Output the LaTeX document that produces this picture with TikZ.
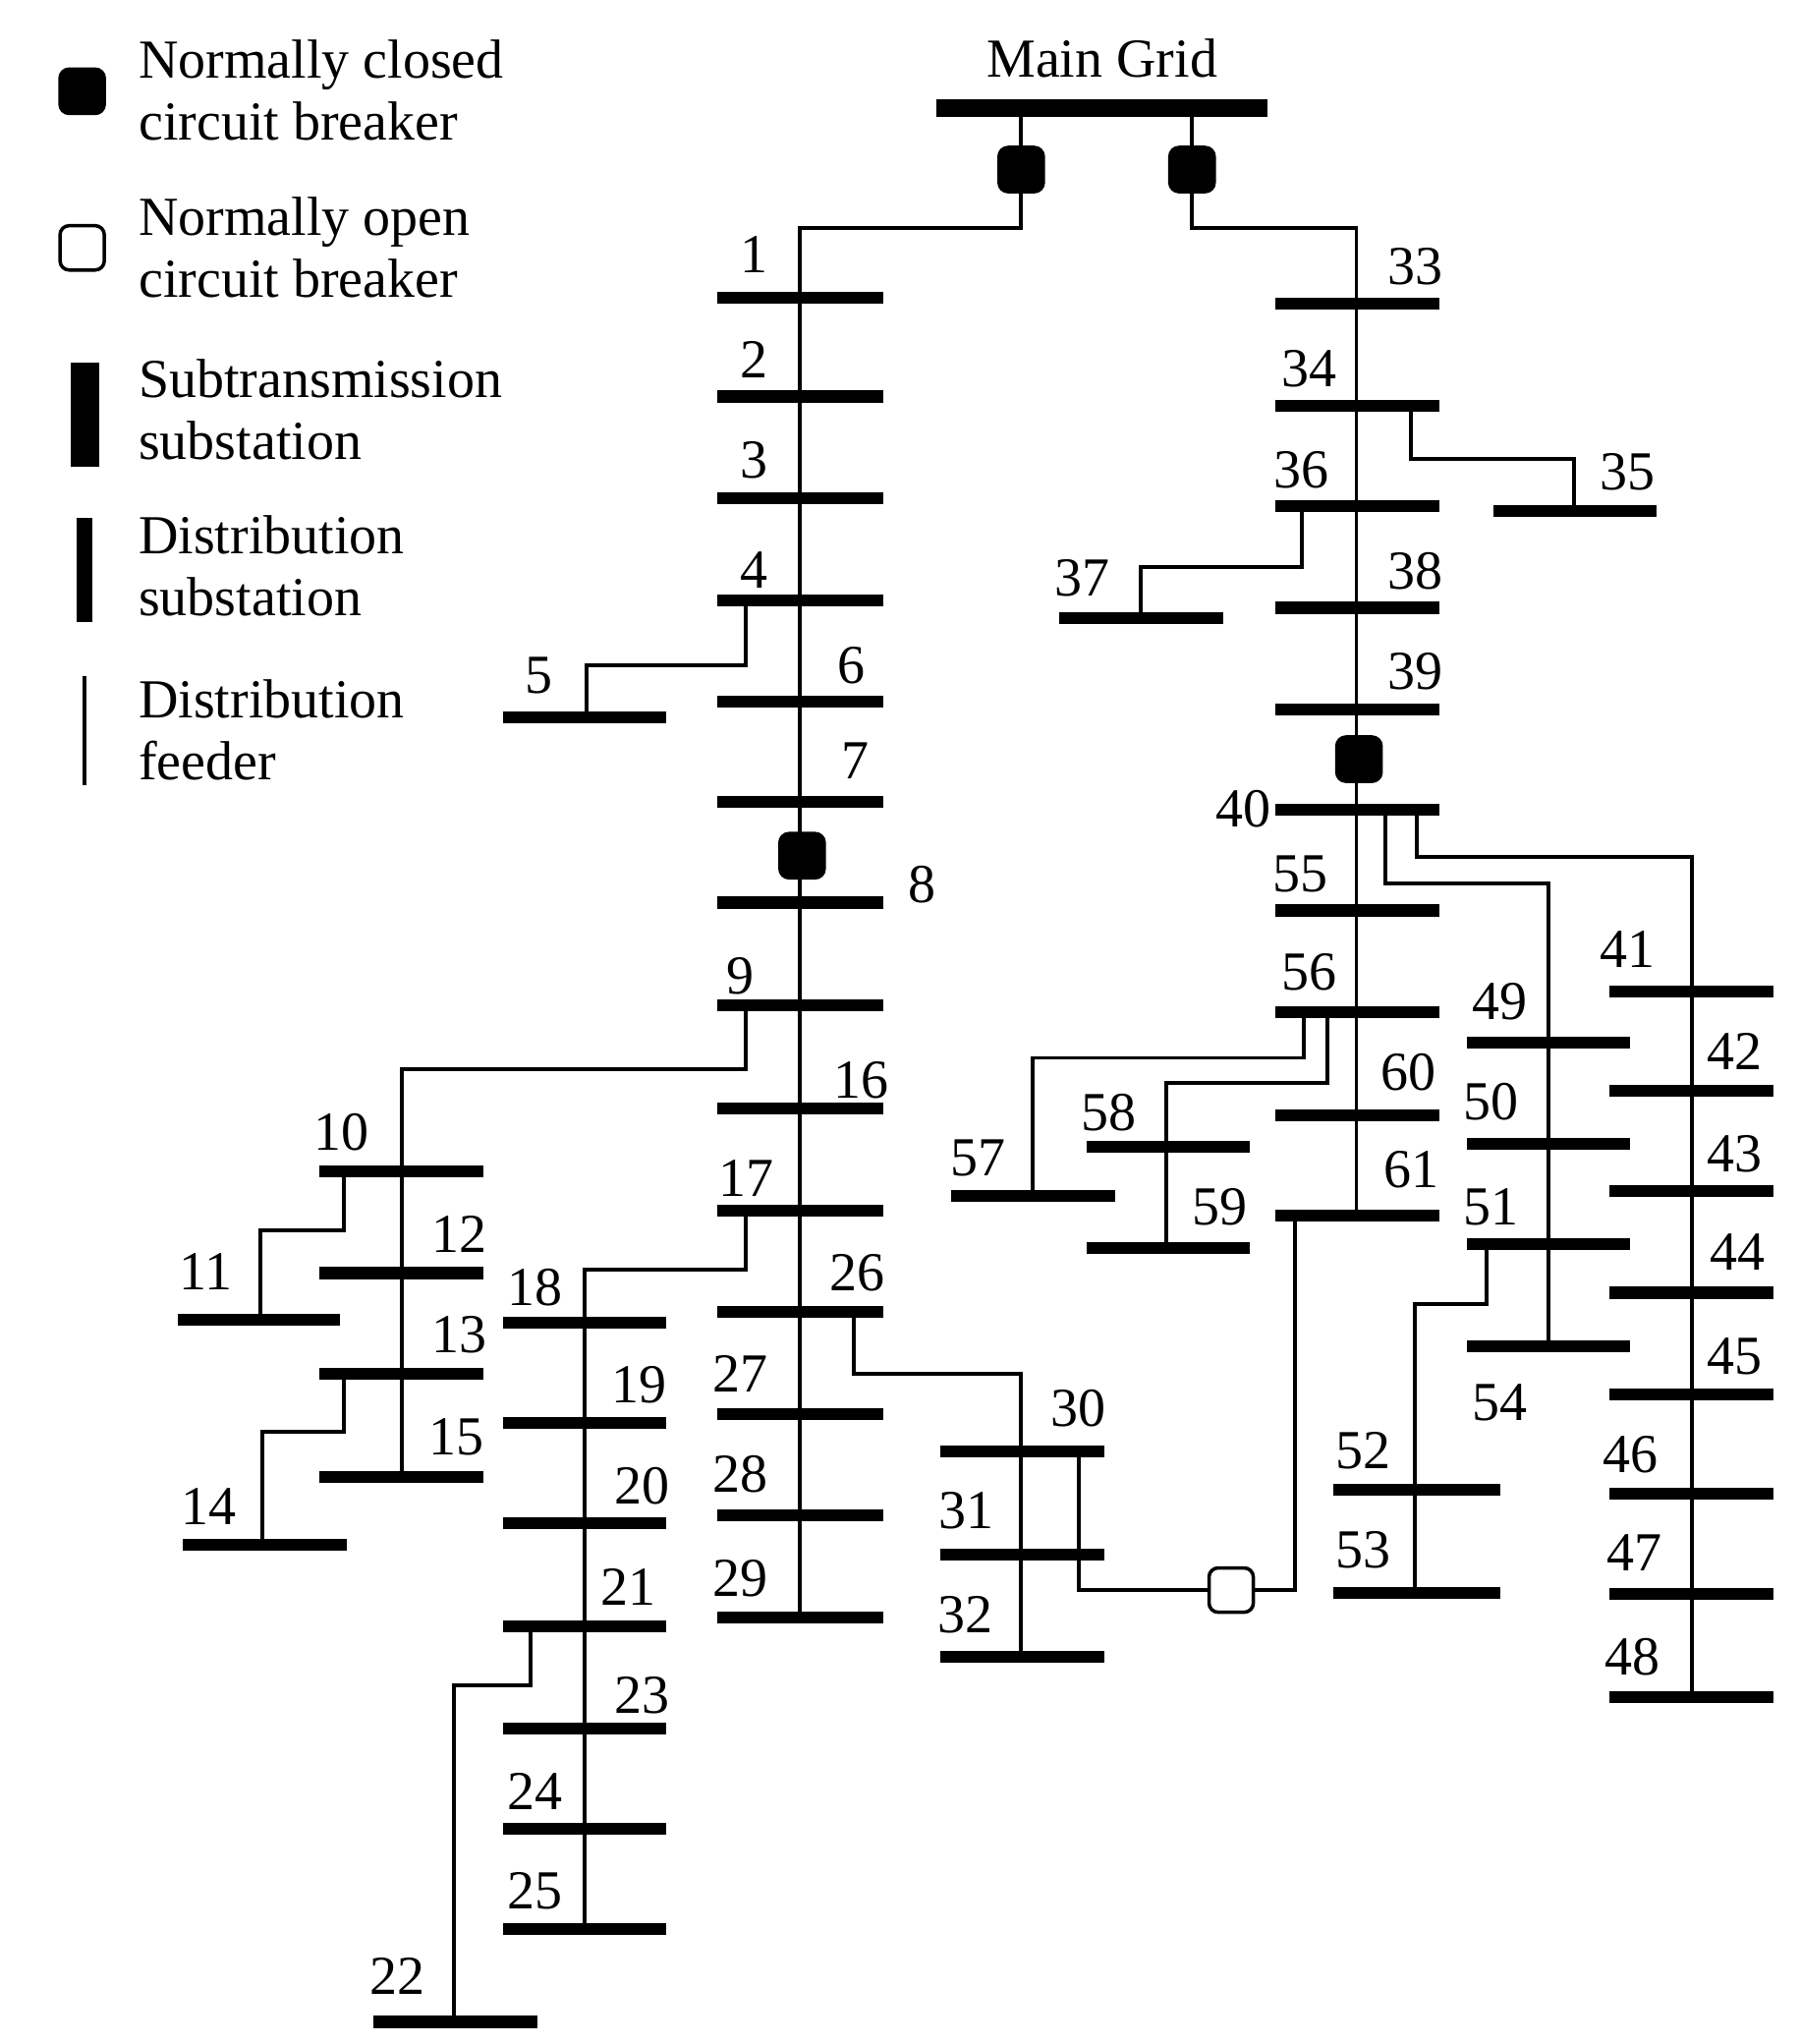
\documentclass[tikz,border=0pt]{standalone}
\usepackage{fontspec}
\setmainfont{Liberation Serif}
\begin{document}
\begin{tikzpicture}[x=0.02cm,y=-0.02cm,
 bus/.style={line width=5.2pt},
 sub/.style={line width=8pt},
 fd/.style={line width=1.7pt},
 cb/.style={draw,line width=1.5pt,fill=black,minimum size=0.68cm,rounded corners=4pt,inner sep=0pt},
 ob/.style={cb,fill=white},
 lb/.style={font=\fontsize{24}{26}\selectfont,inner sep=0pt},
 lt/.style={font=\fontsize{24}{27}\selectfont,inner sep=0pt,anchor=west,align=left}]
\useasboundingbox (0,0) rectangle (1380,1567);
% legend
\node[cb] (lg1) at (63,70) {};
\node[ob] (lg2) at (63,190) {};
\draw[line width=0.44cm] (65,278) -- (65,358);
\draw[line width=0.24cm] (65,397) -- (65,477);
\draw[fd] (65,518) -- (65,602);
\node[lt] at (106,69) {Normally closed\\circuit breaker};
\node[lt] at (106,190) {Normally open\\circuit breaker};
\node[lt] at (106,314) {Subtransmission\\substation};
\node[lt] at (106,434) {Distribution\\substation};
\node[lt] at (106,560) {Distribution\\feeder};
% main grid
\draw[sub] (718,83) -- (972,83);
\node[lb] at (845,45) {Main Grid};
\node[cb] (cbL) at (783,130) {};
\node[cb] (cbR) at (914,130) {};
\draw[fd] (783,83) -- (cbL) -- (783,175) -- (613,175) -- (613,1240);
\draw[fd] (914,83) -- (cbR) -- (914,175) -- (1040,175) -- (1040,932);
% left main feeder buses
\foreach \y/\n/\lx/\ly in {228/1/578/195,304/2/578/276,382/3/578/353,460/4/578/437,538/6/653/510,615/7/656/583,692/8/707/678,771/9/568/748,850/16/660/828,928/17/572/903,1006/26/657/976,1084/27/568/1053,1162/28/568/1130,1240/29/568/1210}{
 \draw[bus] (550,\y) -- (677,\y); \node[lb] (l\n) at (\lx,\ly) {\n};}
\node[cb] (cb8) at (615,656) {};
% bus 5
\draw[fd] (572,460) -- (572,510) -- (450,510) -- (450,550);
\draw[bus] (386,550) -- (511,550); \node[lb] at (413,518) {5};
% 10-15
\draw[fd] (572,771) -- (572,820) -- (308,820) -- (308,1132);
\foreach \y/\n/\lx/\ly in {898/10/262/868,976/12/352/946,1053/13/352/1023,1132/15/350/1102}{
 \draw[bus] (245,\y) -- (371,\y); \node[lb] at (\lx,\ly) {\n};}
\draw[fd] (264,898) -- (264,943) -- (200,943) -- (200,1012);
\draw[bus] (136,1012) -- (261,1012); \node[lb] at (158,975) {11};
\draw[fd] (264,1053) -- (264,1098) -- (201,1098) -- (201,1184);
\draw[bus] (140,1184) -- (266,1184); \node[lb] at (160,1155) {14};
% 18-25
\draw[fd] (572,928) -- (572,973) -- (448,973) -- (448,1479);
\foreach \y/\n/\lx/\ly in {1014/18/410/987,1091/19/490/1062,1168/20/492/1139,1247/21/482/1217,1325/23/492/1300,1402/24/410/1373,1479/25/410/1450}{
 \draw[bus] (386,\y) -- (511,\y); \node[lb] at (\lx,\ly) {\n};}
\draw[fd] (407,1247) -- (407,1292) -- (348,1292) -- (348,1550);
\draw[bus] (286,1550) -- (412,1550); \node[lb] at (305,1515) {22};
% 30-32
\draw[fd] (655,1006) -- (655,1053) -- (783,1053) -- (783,1270);
\foreach \y/\n/\lx/\ly in {1113/30/827/1080,1192/31/741/1158,1270/32/740/1238}{
 \draw[bus] (721,\y) -- (847,\y); \node[lb] at (\lx,\ly) {\n};}
\node[ob] (nob) at (944,1219) {};
\draw[fd] (827,1113) -- (827,1219) -- (nob) -- (993,1219) -- (993,932);
% right main feeder
\foreach \y/\n/\lx/\ly in {233/33/1085/204,311/34/1004/283,388/36/998/360,466/38/1085/438,544/39/1085/515,621/40/953/620,698/55/997/670,776/56/1004/745,855/60/1080/822,932/61/1082/897}{
 \draw[bus] (978,\y) -- (1104,\y); \node[lb] at (\lx,\ly) {\n};}
\node[cb] (cb40) at (1042,582) {};
\draw[fd] (1082,311) -- (1082,352) -- (1207,352) -- (1207,392);
\draw[bus] (1145,392) -- (1270,392); \node[lb] at (1248,362) {35};
\draw[fd] (998,388) -- (998,435) -- (875,435) -- (875,474);
\draw[bus] (812,474) -- (938,474); \node[lb] at (830,443) {37};
% 41-48
\draw[fd] (1086,621) -- (1086,657) -- (1297,657) -- (1297,1301);
\foreach \y/\n/\lx/\ly in {760/41/1248/728,836/42/1330/806,913/43/1330/885,991/44/1332/960,1069/45/1330/1040,1145/46/1250/1115,1222/47/1253/1190,1301/48/1252/1270}{
 \draw[bus] (1234,\y) -- (1360,\y); \node[lb] at (\lx,\ly) {\n};}
% 49-54
\draw[fd] (1062,621) -- (1062,677) -- (1187,677) -- (1187,1032);
\foreach \y/\n/\lx/\ly in {799/49/1150/768,877/50/1143/845,954/51/1143/925,1032/54/1150/1075}{
 \draw[bus] (1125,\y) -- (1250,\y); \node[lb] at (\lx,\ly) {\n};}
\draw[fd] (1140,954) -- (1140,1000) -- (1085,1000) -- (1085,1221);
\foreach \y/\n/\lx/\ly in {1142/52/1045/1112,1221/53/1045/1188}{
 \draw[bus] (1022,\y) -- (1150,\y); \node[lb] at (\lx,\ly) {\n};}
% 57-59
\draw[fd] (1000,776) -- (1000,811) -- (792,811) -- (792,917);
\draw[bus] (729,917) -- (855,917); \node[lb] at (750,888) {57};
\draw[fd] (1018,776) -- (1018,830) -- (894,830) -- (894,957);
\draw[bus] (833,879) -- (958,879); \node[lb] at (850,853) {58};
\draw[bus] (833,957) -- (958,957); \node[lb] at (935,925) {59};
\end{tikzpicture}
\end{document}
